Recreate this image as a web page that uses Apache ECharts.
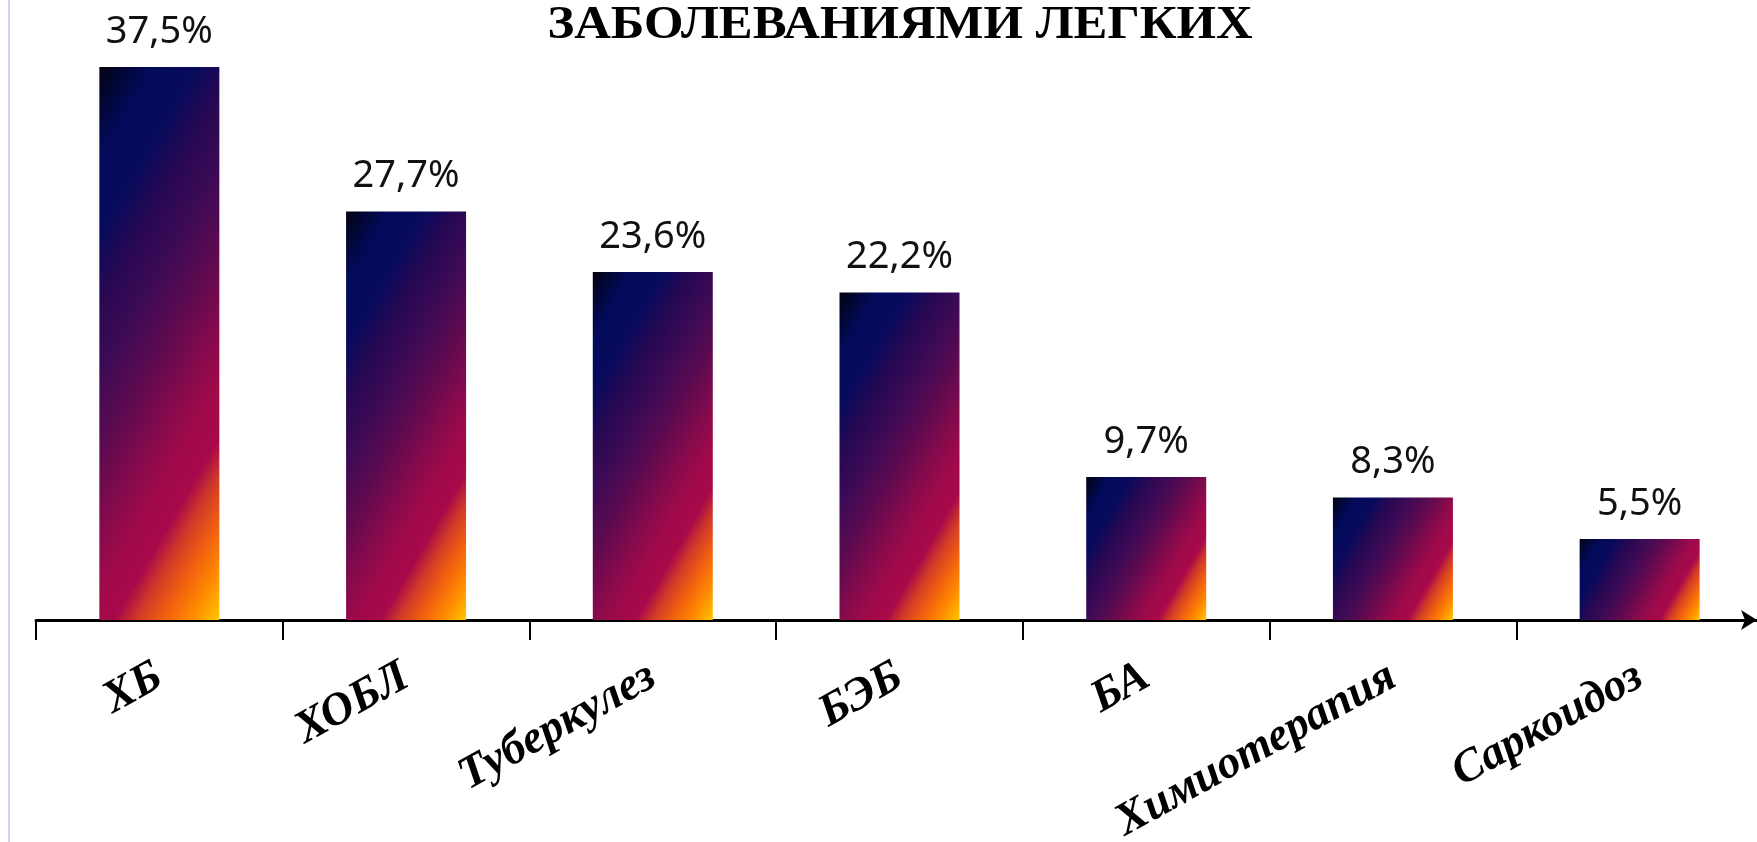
<!DOCTYPE html>
<html><head><meta charset="utf-8">
<script src="https://cdn.jsdelivr.net/npm/echarts@6/dist/echarts.min.js"></script>
<style>html,body{margin:0;padding:0;background:#fff}#c{width:1757px;height:842px}</style>
</head><body><div id="c"></div>
<script>
const categories = ['ХБ', 'ХОБЛ', 'Туберкулез', 'БЭБ', 'БА', 'Химиотерапия', 'Саркоидоз'];
const values = [37.5, 27.7, 23.6, 22.2, 9.7, 8.3, 5.5];
const titleText = 'ЗАБОЛЕВАНИЯМИ ЛЕГКИХ';

const BAR_W = 120;
const GRAD_ANGLE = 30 * Math.PI / 180;
const stops = [
  {offset: 0.00, color: '#05030f'},
  {offset: 0.05, color: '#020630'},
  {offset: 0.12, color: '#030a5a'},
  {offset: 0.22, color: '#080a5c'},
  {offset: 0.31, color: '#280852'},
  {offset: 0.40, color: '#3c0a56'},
  {offset: 0.50, color: '#5a0a50'},
  {offset: 0.62, color: '#880a4c'},
  {offset: 0.69, color: '#a00a4a'},
  {offset: 0.76, color: '#a8094a'},
  {offset: 0.81, color: '#d03a28'},
  {offset: 0.87, color: '#f06010'},
  {offset: 0.93, color: '#ff8800'},
  {offset: 1.00, color: '#ffc800'}
];
function gradFor(w, h) {
  const c = Math.cos(GRAD_ANGLE), s = Math.sin(GRAD_ANGLE);
  const L = w * c + h * s;
  return new echarts.graphic.LinearGradient(0, 0, L * c / w, L * s / h, stops);
}

const chart = echarts.init(document.getElementById('c'), null, {renderer: 'canvas'});
const option = {
  animation: false,
  backgroundColor: '#ffffff',
  graphic: [{
    type: 'line', shape: {x1: 9, y1: 0, x2: 9, y2: 842},
    style: {stroke: '#cbd9ea', lineWidth: 2}, silent: true
  }, {
    type: 'text', x: 900, y: 0, scaleX: 1.08, originX: 0, originY: 0, silent: true,
    style: {
      text: titleText, x: 0, y: 2, align: 'center', verticalAlign: 'top',
      font: 'bold 47px "Liberation Serif"', fill: '#000'
    }
  }],
  grid: {left: 36, right: -6, top: 30, bottom: 222, outerBoundsMode: 'none', containLabel: false},
  xAxis: {
    type: 'category', data: categories,
    axisLine: {show: true, symbol: ['none', 'arrow'], symbolSize: [15, 16], symbolOffset: [0, -6],
      lineStyle: {color: '#000', width: 3}},
    axisTick: {show: true, length: 20, lineStyle: {color: '#000', width: 2}},
    axisLabel: {
      rotate: 29, margin: 54, color: '#000', hideOverlap: false,
      fontFamily: 'Liberation Serif', fontWeight: 'bold', fontStyle: 'italic', fontSize: 46
    }
  },
  yAxis: {type: 'value', min: 0, max: 40, show: false, splitLine: {show: false}},
  series: [{
    type: 'bar', barWidth: BAR_W, data: values,
    itemStyle: {color: '#4e0a50'},
    label: {
      show: true, position: 'top', distance: 16, color: '#111',
      fontFamily: 'Noto Sans', fontSize: 38,
      formatter: p => p.value.toFixed(1).replace('.', ',') + '%'
    }
  }]
};
chart.setOption(option);
const y0 = chart.convertToPixel({seriesIndex: 0}, [0, 0])[1];
const data = values.map((v, i) => {
  const yt = chart.convertToPixel({seriesIndex: 0}, [i, v])[1];
  return {value: v, itemStyle: {color: gradFor(BAR_W, Math.max(1, y0 - yt))}};
});
chart.setOption({series: [{data: data}]});
</script></body></html>
